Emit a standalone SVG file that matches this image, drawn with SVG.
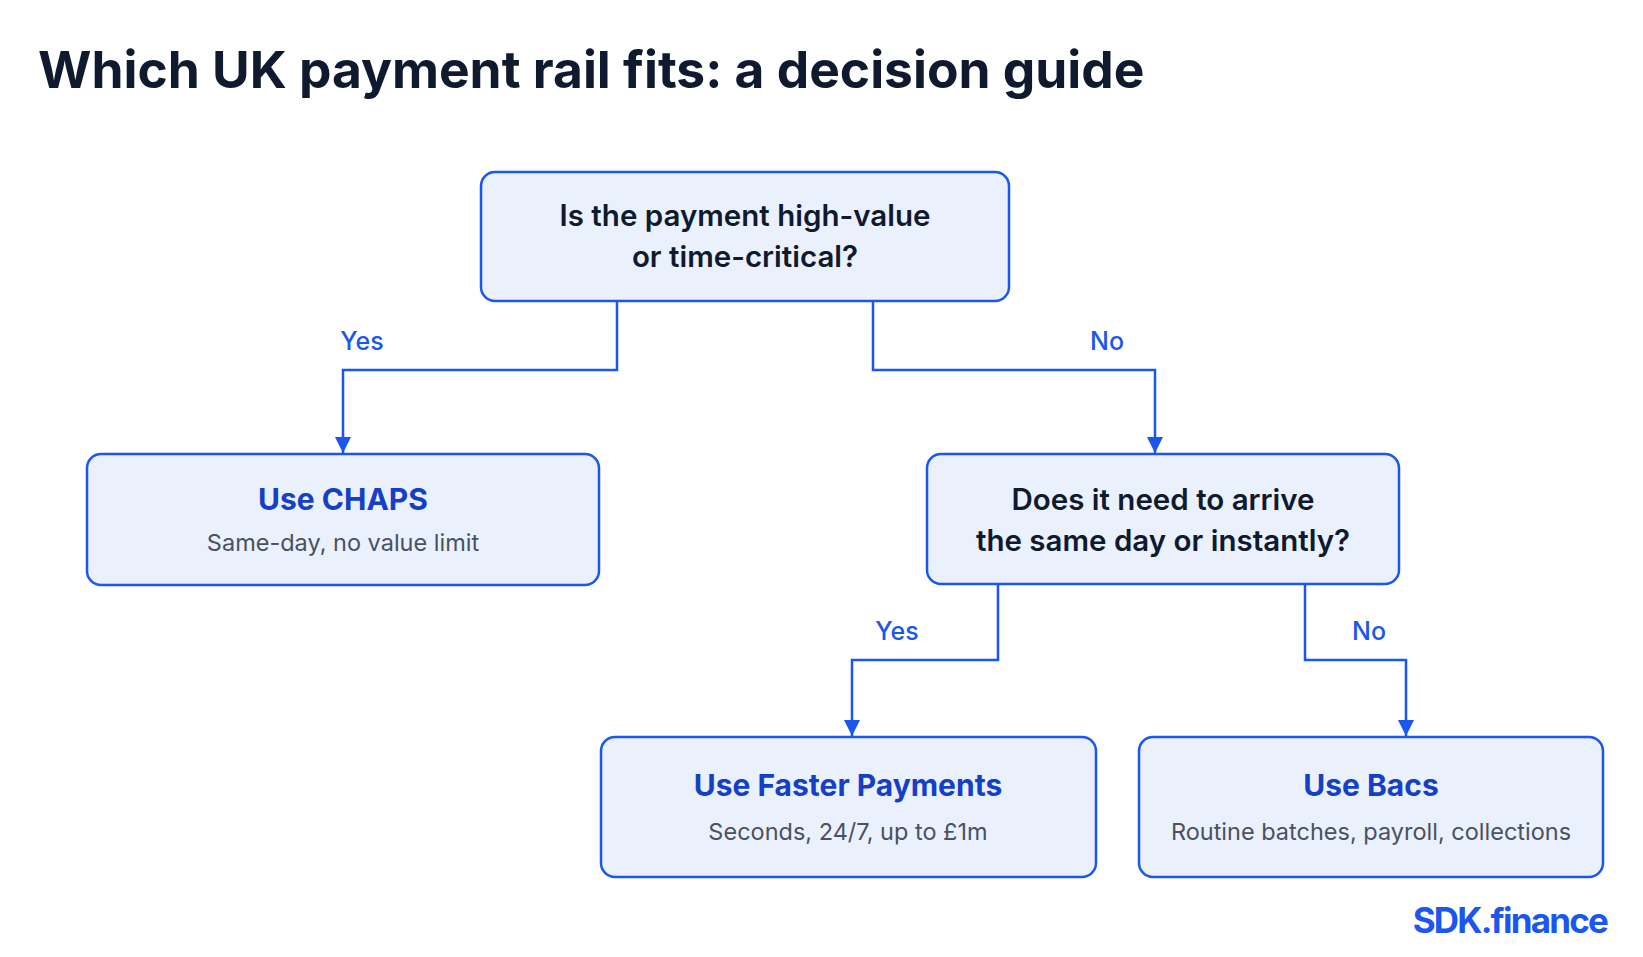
<svg xmlns="http://www.w3.org/2000/svg" width="1643" height="957" viewBox="0 0 1643 957">
<defs>
<marker id="ah" viewBox="0 0 10 10" refX="10" refY="5" markerWidth="16" markerHeight="16" markerUnits="userSpaceOnUse" orient="auto"><path d="M0,0 L10,5 L0,10 z" fill="#1a56f0"/></marker>
<style>
.box{fill:#eaf0fc;stroke:#1a56f0;stroke-width:2.5}
.q{font-family:Inter,"Liberation Sans",sans-serif;font-size:29.5px;font-weight:600;fill:#0f1a2e;text-anchor:middle}
.t{font-family:Inter,"Liberation Sans",sans-serif;font-size:30px;font-weight:700;fill:#1440c8;text-anchor:middle}
.s{font-family:Inter,"Liberation Sans",sans-serif;font-size:23.5px;fill:#4a5160;text-anchor:middle}
.lbl{font-family:Inter,"Liberation Sans",sans-serif;font-size:25px;font-weight:500;fill:#1a56f0;text-anchor:middle}
.c{fill:none;stroke:#1a56f0;stroke-width:2.5;marker-end:url(#ah)}
</style>
</defs>
<rect width="1643" height="957" fill="#ffffff"/>
<text x="38" y="88" font-family="Inter,'Liberation Sans',sans-serif" font-size="51.5" font-weight="700" fill="#0f1a2e">Which UK payment rail fits: a decision guide</text>
<g id="connectors">
<path class="c" d="M617,301 V370 H343 V453"/>
<path class="c" d="M873,301 V370 H1155 V453"/>
<path class="c" d="M998,584 V660 H852 V736"/>
<path class="c" d="M1305,584 V660 H1406 V736"/>
<text class="lbl" x="362" y="350">Yes</text>
<text class="lbl" x="1107" y="350">No</text>
<text class="lbl" x="897" y="640">Yes</text>
<text class="lbl" x="1369" y="640">No</text>
</g>
<g id="q1"><rect class="box" x="481" y="172" width="528" height="129" rx="14"/>
<text class="q" x="745" y="226">Is the payment high-value</text><text class="q" x="745" y="267">or time-critical?</text></g>
<g id="chaps"><rect class="box" x="87" y="454" width="512" height="131" rx="14"/>
<text class="t" x="343" y="510">Use CHAPS</text><text class="s" x="343" y="551">Same-day, no value limit</text></g>
<g id="q2"><rect class="box" x="927" y="454" width="472" height="130" rx="14"/>
<text class="q" x="1163" y="510">Does it need to arrive</text><text class="q" x="1163" y="551">the same day or instantly?</text></g>
<g id="fps"><rect class="box" x="601" y="737" width="495" height="140" rx="14"/>
<text class="t" x="848" y="796">Use Faster Payments</text><text class="s" x="848" y="840">Seconds, 24/7, up to £1m</text></g>
<g id="bacs"><rect class="box" x="1139" y="737" width="464" height="140" rx="14"/>
<text class="t" x="1371" y="796">Use Bacs</text><text class="s" x="1371" y="840">Routine batches, payroll, collections</text></g>
<text x="1607" y="933" text-anchor="end" font-family="Inter,'Liberation Sans',sans-serif" font-size="35" font-weight="700" letter-spacing="-1.8" fill="#1a56f0">SDK.finance</text>
</svg>
